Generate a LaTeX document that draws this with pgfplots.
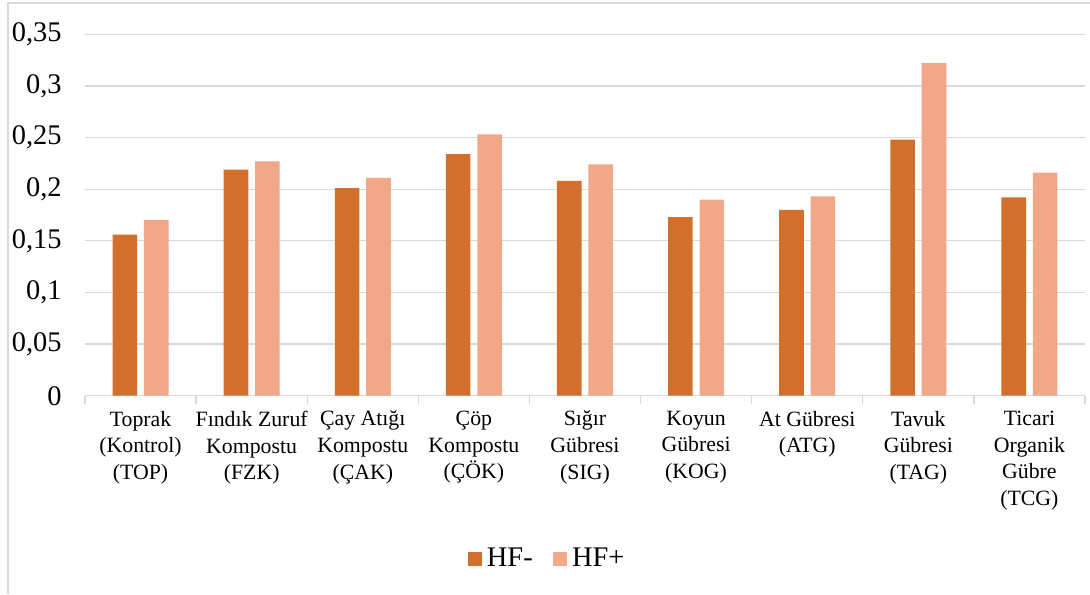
\documentclass[border=0pt]{standalone}
\usepackage{pgfplots}
\pgfplotsset{compat=1.18}
\usepackage{fontspec}
\setmainfont{Liberation Serif}
\definecolor{HFm}{RGB}{210,111,44}
\definecolor{HFp}{RGB}{241,168,137}
\definecolor{gridgray}{RGB}{217,217,217}
\begin{document}
\begin{tikzpicture}
\useasboundingbox (-42.5pt,-99.15pt) rectangle (502.5pt,197.85pt);
\draw[gridgray, line width=0.7pt] (-38.5pt,-99.15pt) -- (-38.5pt,196.35pt) -- (502.5pt,196.35pt);
\begin{axis}[
  at={(0pt,0pt)}, anchor=south west,
  scale only axis,
  width=500pt, height=180.7pt,
  ybar=3.4pt, bar width=12.3pt,
  xmin=-0.5, xmax=8.5,
  ymin=0, ymax=0.35,
  axis line style={draw=none},
  ytick={0,0.05,0.1,0.15,0.2,0.25,0.3,0.35},
  yticklabels={0,{0,05},{0,1},{0,15},{0,2},{0,25},{0,3},{0,35}},
  ytick style={draw=none},
  yticklabel style={font=\fontsize{14.2}{16}\selectfont, inner sep=0pt, xshift=-11.5pt},
  ymajorgrids,
  grid style={color=gridgray, line width=0.65pt},
  xtick={-0.5,0.5,...,8.5},
  xticklabels={},
  xtick pos=bottom,
  xtick align=outside,
  major tick length=4pt,
  xtick style={draw=gridgray, line width=0.65pt},
  extra x ticks={0,1,2,3,4,5,6,7,8},
  extra x tick labels={{Toprak\\(Kontrol)\\(TOP)},{Fındık Zuruf\\Kompostu\\(FZK)},{Çay Atığı\\Kompostu\\(ÇAK)},{Çöp\\Kompostu\\(ÇÖK)},{Sığır\\Gübresi\\(SIG)},{Koyun\\Gübresi\\(KOG)},{At Gübresi\\(ATG)},{Tavuk\\Gübresi\\(TAG)},{Ticari\\Organik\\Gübre\\(TCG)}},
  extra x tick style={grid=none, major tick length=0pt, xtick style={draw=none}},
  xticklabel style={align=center, font=\fontsize{10.9}{13.3}\selectfont, inner sep=0pt, anchor=north, yshift=-7.5pt},
  legend columns=2,
  legend style={draw=none, fill=none, at={(axis description cs:0.462,-0.452)}, anchor=center,
    font=\fontsize{14.2}{16}\selectfont, column sep=0pt,
    /tikz/every odd column/.append style={column sep=1.5pt},
    /tikz/every even column/.append style={column sep=9pt},
    nodes={inner sep=1pt}},
  legend image code/.code={\fill[#1] (0pt,-3.6pt) rectangle (7.2pt,3.6pt);},
]
\addplot[fill=HFm, draw=none] coordinates {(0,0.156) (1,0.219) (2,0.201) (3,0.234) (4,0.208) (5,0.173) (6,0.18) (7,0.248) (8,0.192)};
\addplot[fill=HFp, draw=none] coordinates {(0,0.17) (1,0.227) (2,0.211) (3,0.253) (4,0.224) (5,0.19) (6,0.193) (7,0.322) (8,0.216)};
\legend{HF-,HF+}
\end{axis}
\end{tikzpicture}
\end{document}
